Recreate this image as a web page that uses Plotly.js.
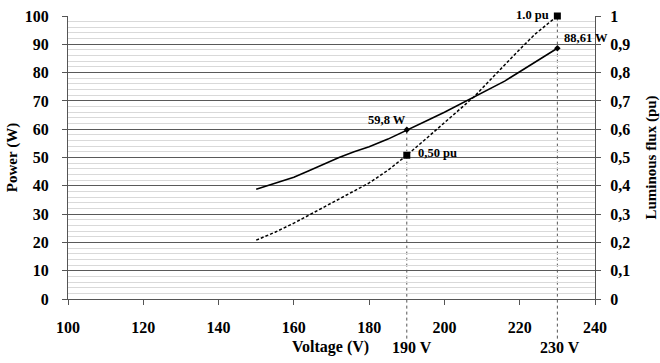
<!DOCTYPE html>
<html>
<head>
<meta charset="utf-8">
<script src="https://cdn.plot.ly/plotly-3.0.1.min.js"></script>
<style>html,body{margin:0;padding:0;background:#fff;}#chart{width:660px;height:363px;}</style>
</head>
<body>
<div id="chart"></div>
<script>
// Power curve (W) vs voltage (V)
const powerVoltage = [150, 155, 160, 164, 168, 172, 176, 180, 185, 190, 195, 200, 204, 208, 212, 216, 220, 224, 230];
const powerValues  = [38.8, 40.8, 43.0, 45.3, 47.7, 50.0, 52.0, 53.8, 56.5, 59.8, 62.8, 66.0, 68.8, 71.4, 74.2, 77.0, 80.3, 83.5, 88.61];

// Luminous flux curve (pu) vs voltage (V)
const fluxVoltage = [150, 155, 160, 165, 170, 175, 180, 185, 190, 195, 200, 204, 208, 212, 216, 220, 224, 227, 230];
const fluxValues  = [0.208, 0.236, 0.268, 0.303, 0.338, 0.372, 0.41, 0.455, 0.508, 0.565, 0.622, 0.67, 0.716, 0.772, 0.828, 0.882, 0.935, 0.968, 1.0];

// Marked points
const markVoltage = [190, 230];
const markPower   = [59.8, 88.61];
const markFlux    = [0.508, 1.0];
const powerLabels = ['59,8 W', '88,61 W'];
const fluxLabels  = ['0,50 pu', '1.0 pu'];
const voltLabels  = ['190 V', '230 V'];

// Major horizontal gridlines (the top edge has none)
const majorGrid = [10, 20, 30, 40, 50, 60, 70, 80, 90];

const serif = "'Liberation Serif', 'DejaVu Serif', serif";
const refTop = [markPower[0] / 100, markFlux[1] / 1];

const traces = [
  {x: powerVoltage, y: powerValues, type: 'scatter', mode: 'lines',
   line: {color: '#000', width: 1.6}, yaxis: 'y', hoverinfo: 'skip'},
  {x: fluxVoltage, y: fluxValues, type: 'scatter', mode: 'lines',
   line: {color: '#000', width: 1.5, dash: '3px,2px'}, yaxis: 'y2', hoverinfo: 'skip'},
  {x: markVoltage, y: markPower, type: 'scatter', mode: 'markers',
   marker: {color: '#000', size: 5, symbol: 'diamond'}, yaxis: 'y', hoverinfo: 'skip'},
  {x: markVoltage, y: markFlux, type: 'scatter', mode: 'markers',
   marker: {color: '#000', size: 7, symbol: 'square'}, yaxis: 'y2', cliponaxis: false, hoverinfo: 'skip'},
  {x: [], y: [], type: 'scatter', mode: 'lines', yaxis: 'y3', hoverinfo: 'skip'}
];

const shapes = markVoltage.map((v, i) => ({
  type: 'line', xref: 'x', yref: 'paper', x0: v, x1: v, y0: -0.14, y1: refTop[i],
  line: {color: '#555', width: 1, dash: 'dot'}, layer: 'below'
}));

const labFont = {family: serif, size: 12.5, color: '#000', weight: 'bold'};
const bigFont = {family: serif, size: 16, color: '#000', weight: 'bold'};

const annotations = [
  {x: markVoltage[0], y: markPower[0], xref: 'x', yref: 'y', text: powerLabels[0],
   showarrow: false, xanchor: 'right', yanchor: 'bottom', xshift: 1, yshift: 1, font: labFont},
  {x: markVoltage[1], y: markPower[1], xref: 'x', yref: 'y', text: powerLabels[1],
   showarrow: false, xanchor: 'left', yanchor: 'middle', xshift: 5, yshift: 10, font: labFont},
  {x: markVoltage[0], y: markFlux[0], xref: 'x', yref: 'y2', text: fluxLabels[0],
   showarrow: false, xanchor: 'left', yanchor: 'middle', xshift: 9, yshift: 2, font: labFont},
  {x: markVoltage[1], y: markFlux[1], xref: 'x', yref: 'y2', text: fluxLabels[1],
   showarrow: false, xanchor: 'right', yanchor: 'middle', xshift: -6, yshift: 1, font: labFont},
  {x: markVoltage[0], y: -0.17, xref: 'x', yref: 'paper', text: voltLabels[0],
   showarrow: false, xanchor: 'center', yanchor: 'middle', xshift: 5, font: bigFont},
  {x: markVoltage[1], y: -0.17, xref: 'x', yref: 'paper', text: voltLabels[1],
   showarrow: false, xanchor: 'center', yanchor: 'middle', xshift: 3, font: bigFont},
  {x: 0.499, y: -0.17, xref: 'paper', yref: 'paper', text: 'Voltage (V)',
   showarrow: false, xanchor: 'center', yanchor: 'middle', font: bigFont}
];

const layout = {
  width: 660, height: 363,
  margin: {l: 68, r: 65, t: 16, b: 64},
  paper_bgcolor: '#fff', plot_bgcolor: '#fff',
  showlegend: false,
  separators: ',.',
  font: {family: serif, size: 16, color: '#000'},
  xaxis: {
    range: [100, 240], dtick: 20, tick0: 100,
    showgrid: false, zeroline: false,
    showline: true, linecolor: '#555', linewidth: 1,
    ticks: 'outside', ticklen: 5, tickcolor: '#555',
    ticklabelstandoff: 9,
    tickfont: bigFont
  },
  yaxis: {
    range: [0, 100], dtick: 10, tick0: 0,
    showgrid: false,
    minor: {dtick: 2, showgrid: true, gridcolor: '#d9d9d9', gridwidth: 1},
    zeroline: false,
    showline: true, linecolor: '#555', linewidth: 1,
    ticks: 'outside', ticklen: 5, tickcolor: '#555',
    ticklabelstandoff: 10,
    tickfont: bigFont,
    title: {text: 'Power (W)', standoff: 3, font: {family: serif, size: 15, color: '#000', weight: 'bold'}}
  },
  yaxis2: {
    overlaying: 'y', side: 'right',
    range: [0, 1], dtick: 0.1, tick0: 0,
    showgrid: false, zeroline: false,
    showline: true, linecolor: '#555', linewidth: 1,
    ticks: 'outside', ticklen: 5, tickcolor: '#555',
    ticklabelstandoff: 6,
    tickfont: bigFont,
    title: {text: 'Luminous flux (pu)', standoff: 16, font: {family: serif, size: 15, color: '#000', weight: 'bold'}}
  },
  yaxis3: {
    overlaying: 'y', side: 'left',
    range: [0, 100], tickmode: 'array', tickvals: majorGrid,
    showticklabels: false, ticks: '', showline: false, zeroline: false,
    showgrid: true, gridcolor: '#5a5a5a', gridwidth: 1
  },
  shapes: shapes,
  annotations: annotations
};

Plotly.newPlot('chart', traces, layout, {staticPlot: true, displayModeBar: false});
</script>
</body>
</html>
